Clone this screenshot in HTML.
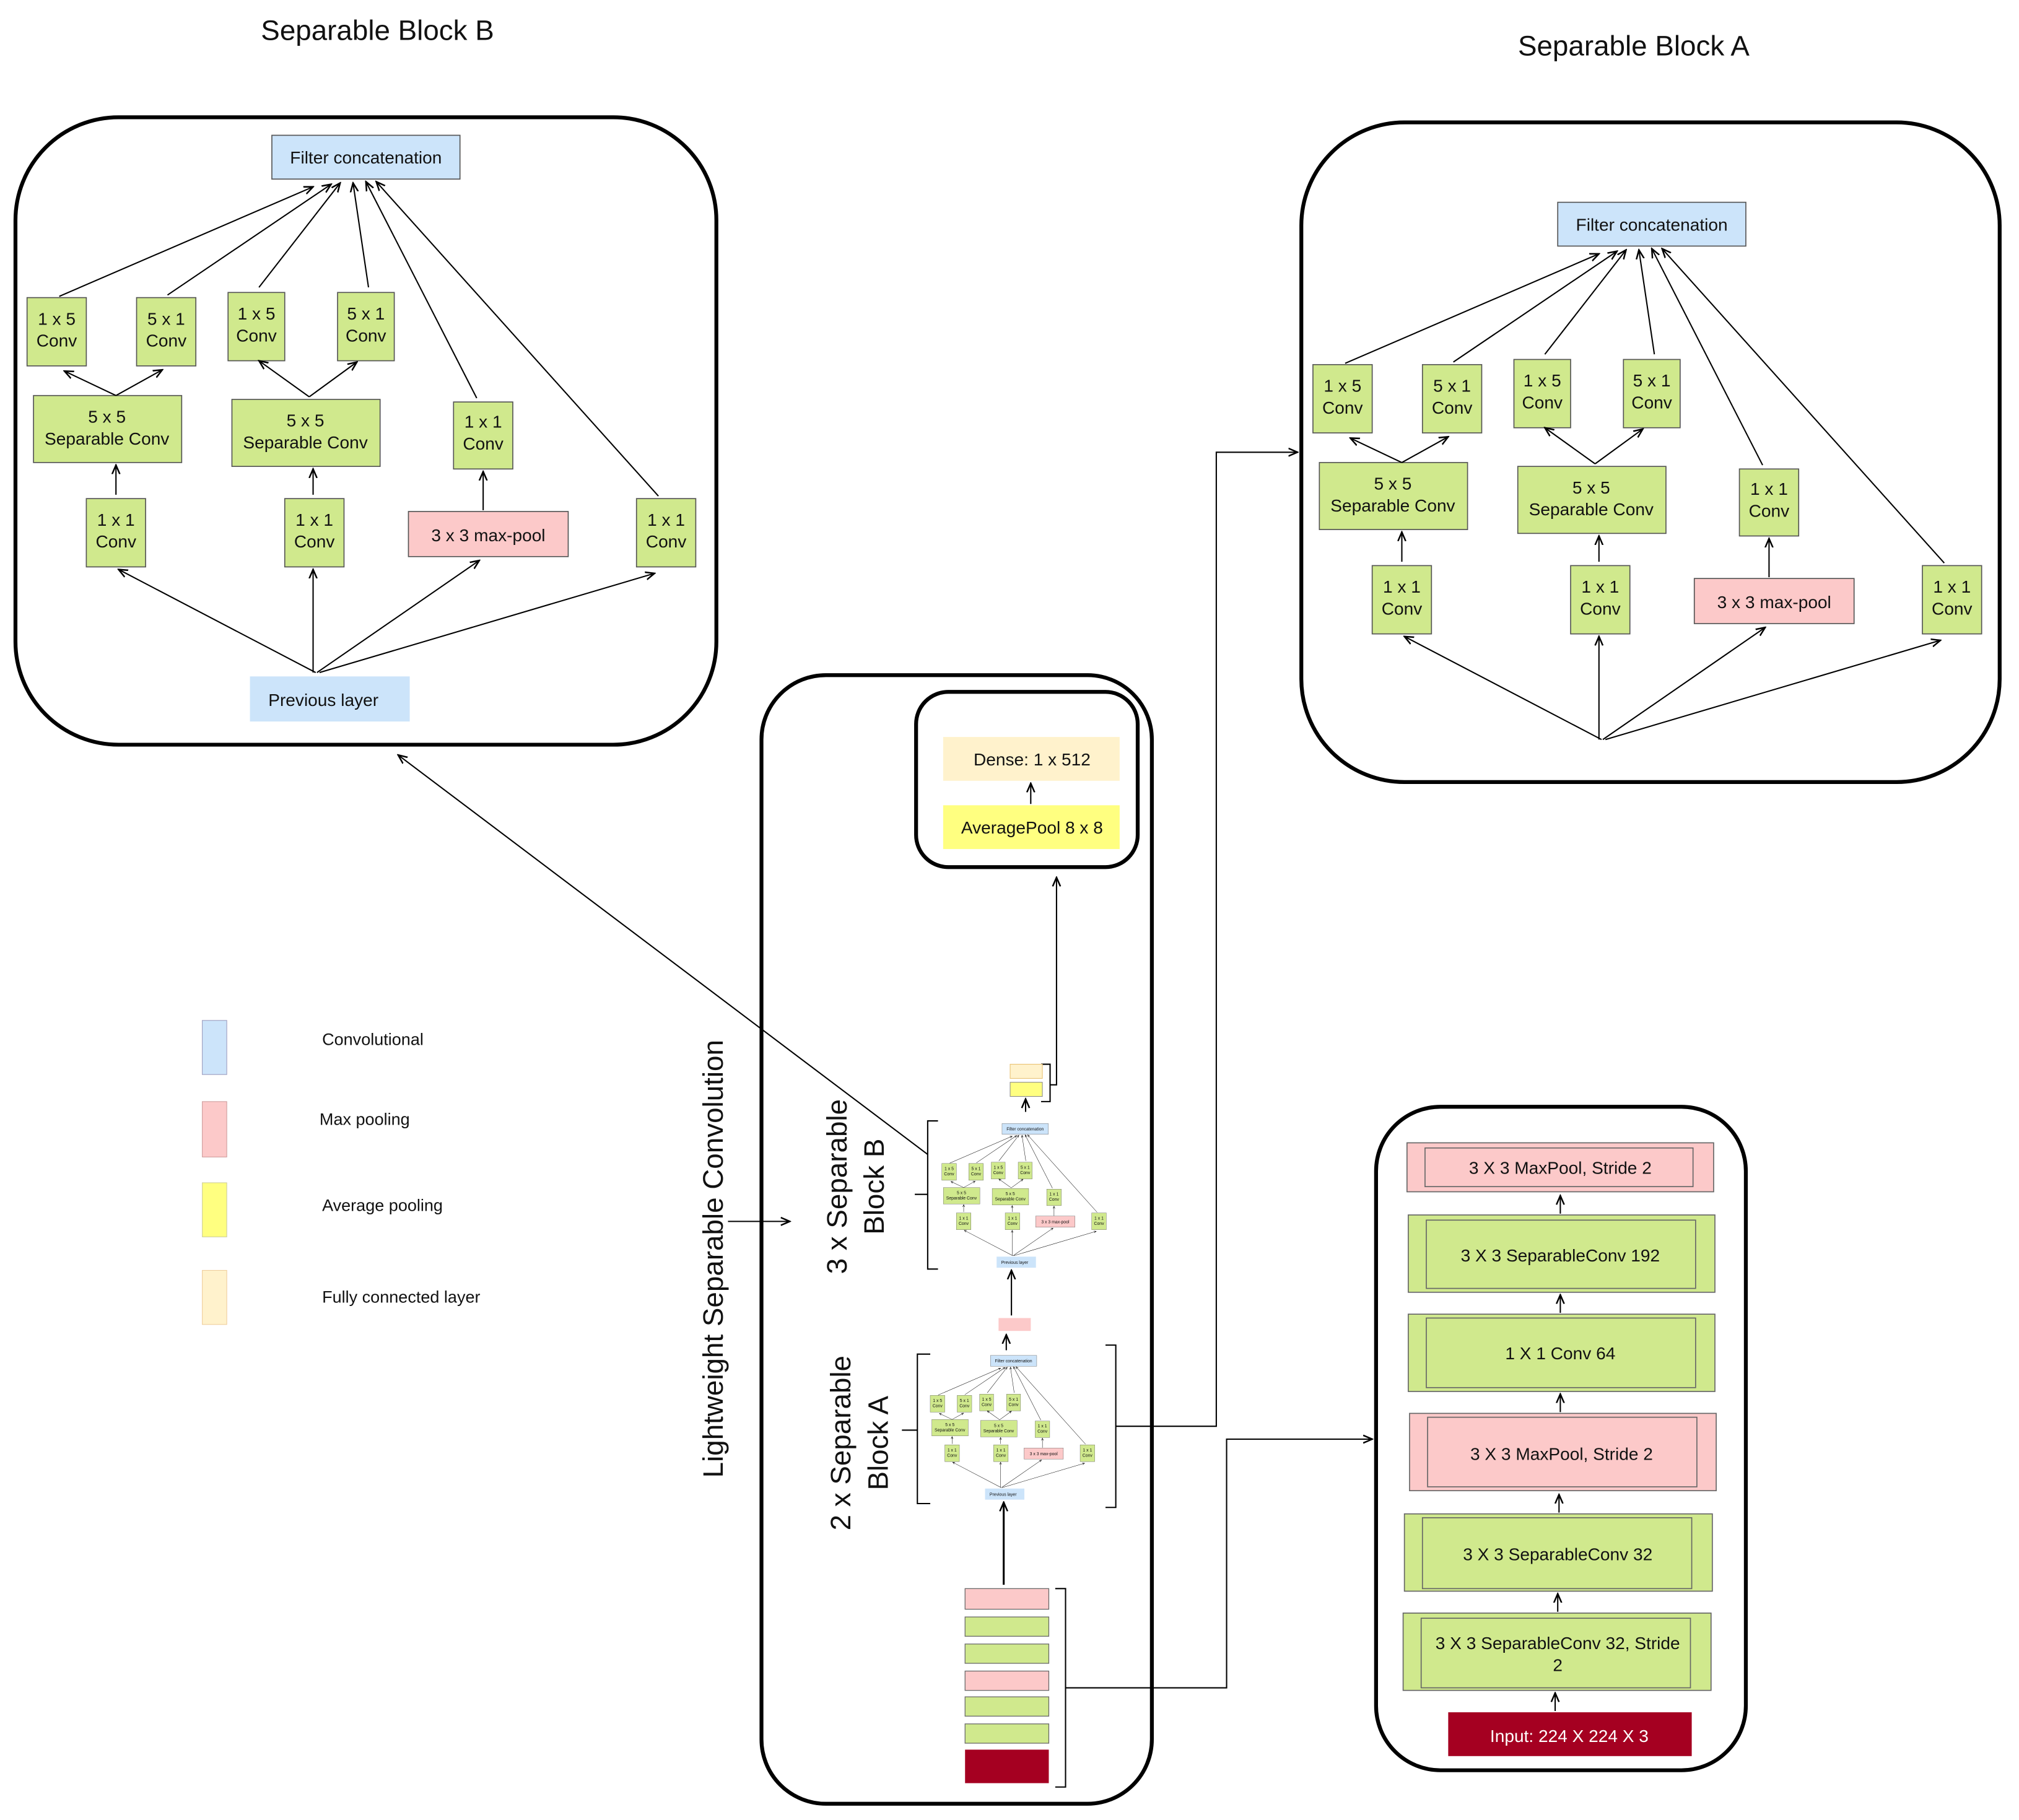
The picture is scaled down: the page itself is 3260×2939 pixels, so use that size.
<!DOCTYPE html>
<html><head><meta charset="utf-8"><style>
html,body{margin:0;padding:0;background:#fff}
svg{display:block}
text{font-family:"Liberation Sans",sans-serif;fill:#111}
</style></head><body>
<svg width="3260" height="2939" viewBox="0 0 1567 1412.6" preserveAspectRatio="none" xmlns="http://www.w3.org/2000/svg">
<defs>
<marker id="ah" markerWidth="8" markerHeight="8" refX="7" refY="4" orient="auto" markerUnits="userSpaceOnUse">
<path d="M0,1 L7,4 L0,7" fill="none" stroke="#000" stroke-width="1.2"/></marker>
<g id="blk">
<g stroke="#555" stroke-width="0.8">
<rect x="211" y="105" width="146" height="34" fill="#cce4fa"/>
<rect x="21" y="231" width="46" height="53" fill="#d0e98d"/>
<rect x="106" y="231" width="46" height="53" fill="#d0e98d"/>
<rect x="177" y="227" width="44" height="53" fill="#d0e98d"/>
<rect x="262" y="227" width="44" height="53" fill="#d0e98d"/>
<rect x="26" y="307" width="115" height="52" fill="#d0e98d"/>
<rect x="180" y="310" width="115" height="52" fill="#d0e98d"/>
<rect x="352" y="312" width="46" height="52" fill="#d0e98d"/>
<rect x="67" y="387" width="46" height="53" fill="#d0e98d"/>
<rect x="221" y="387" width="46" height="53" fill="#d0e98d"/>
<rect x="317" y="397" width="124" height="35" fill="#fcc9c9"/>
<rect x="494" y="387" width="46" height="53" fill="#d0e98d"/>
</g>
<g font-size="13.5" text-anchor="middle">
<text x="284" y="127">Filter concatenation</text>
<text x="44" y="252">1 x 5</text><text x="44" y="269">Conv</text>
<text x="129" y="252">5 x 1</text><text x="129" y="269">Conv</text>
<text x="199" y="248">1 x 5</text><text x="199" y="265">Conv</text>
<text x="284" y="248">5 x 1</text><text x="284" y="265">Conv</text>
<text x="83" y="328">5 x 5</text><text x="83" y="345">Separable Conv</text>
<text x="237" y="331">5 x 5</text><text x="237" y="348">Separable Conv</text>
<text x="375" y="332">1 x 1</text><text x="375" y="349">Conv</text>
<text x="90" y="408">1 x 1</text><text x="90" y="425">Conv</text>
<text x="244" y="408">1 x 1</text><text x="244" y="425">Conv</text>
<text x="379" y="420">3 x 3 max-pool</text>
<text x="517" y="408">1 x 1</text><text x="517" y="425">Conv</text>
</g>
<g stroke="#000" stroke-width="1" fill="none" marker-end="url(#ah)">
<line x1="46" y1="230" x2="243" y2="145"/>
<line x1="130" y1="229" x2="257" y2="143"/>
<line x1="201" y1="223" x2="264" y2="142"/>
<line x1="286" y1="223" x2="274" y2="142"/>
<line x1="370" y1="309" x2="284" y2="141"/>
<line x1="511" y1="385" x2="292" y2="141"/>
<line x1="90" y1="307" x2="50" y2="288"/>
<line x1="90" y1="307" x2="126" y2="287"/>
<line x1="240" y1="308" x2="201" y2="280"/>
<line x1="240" y1="308" x2="277" y2="281"/>
<line x1="90" y1="384" x2="90" y2="361"/>
<line x1="243" y1="384" x2="243" y2="364"/>
<line x1="375" y1="396" x2="375" y2="366"/>
<line x1="245" y1="522" x2="92" y2="442"/>
<line x1="243" y1="522" x2="243" y2="442"/>
<line x1="246" y1="522" x2="372" y2="435"/>
<line x1="248" y1="522" x2="508" y2="445"/>
</g>
</g>
<g id="blkp">
<use href="#blk"/>
<rect x="194" y="525" width="124" height="35" fill="#cce4fa"/>
<text x="251" y="548" font-size="13.5" text-anchor="middle">Previous layer</text>
</g>
</defs>

<!-- Block B -->
<text x="293" y="31" font-size="22" text-anchor="middle">Separable Block B</text>
<rect x="12" y="91" width="544" height="487" rx="80" fill="none" stroke="#000" stroke-width="3"/>
<use href="#blkp"/>

<!-- Block A -->
<text x="1268" y="43" font-size="22" text-anchor="middle">Separable Block A</text>
<rect x="1010" y="95" width="542" height="512" rx="80" fill="none" stroke="#000" stroke-width="3"/>
<use href="#blk" transform="translate(998,52)"/>

<!-- Legend -->
<rect x="157" y="792" width="19" height="42" fill="#cce4fa" stroke="#99b" stroke-width="0.5"/>
<rect x="157" y="855" width="19" height="43" fill="#fcc9c9" stroke="#c99" stroke-width="0.5"/>
<rect x="157" y="918" width="19" height="42" fill="#ffff80" stroke="#cc9" stroke-width="0.5"/>
<rect x="157" y="986" width="19" height="42" fill="#fff2cc" stroke="#ec9" stroke-width="0.5"/>
<g font-size="13">
<text x="250" y="811">Convolutional</text>
<text x="248" y="873">Max pooling</text>
<text x="250" y="940">Average pooling</text>
<text x="250" y="1011">Fully connected layer</text>
</g>

<!-- Middle frame -->
<rect x="591" y="524" width="303" height="876" rx="50" fill="none" stroke="#000" stroke-width="3"/>
<rect x="711" y="537" width="172" height="136" rx="25" fill="none" stroke="#000" stroke-width="3"/>
<rect x="732" y="572" width="137" height="34" fill="#fff2cc"/>
<rect x="732" y="625" width="137" height="34" fill="#ffff80"/>
<text x="801" y="594" font-size="13.5" text-anchor="middle">Dense: 1 x 512</text>
<text x="801" y="647" font-size="13.5" text-anchor="middle">AveragePool 8 x 8</text>
<g stroke="#000" stroke-width="1" fill="none">
<line x1="800" y1="624" x2="800" y2="608" marker-end="url(#ah)"/>
<polyline points="808,826 815,826 815,855 808,855"/>
<polyline points="815,842 820,842 820,681" marker-end="url(#ah)"/>
<line x1="796" y1="863" x2="796" y2="853" marker-end="url(#ah)"/>
<polyline points="728,870 720,870 720,985 728,985"/>
<line x1="710" y1="927" x2="720" y2="927"/>
<line x1="785" y1="1021" x2="785" y2="986" marker-end="url(#ah)"/>
<line x1="781" y1="1048" x2="781" y2="1036" marker-end="url(#ah)"/>
<polyline points="722,1051 712,1051 712,1167 722,1167"/>
<line x1="700" y1="1110" x2="712" y2="1110"/>
<polyline points="858,1044 866,1044 866,1170 858,1170"/>
<polyline points="866,1107 944,1107 944,351 1007,351" marker-end="url(#ah)"/>
<line x1="779" y1="1230" x2="779" y2="1166" marker-end="url(#ah)" stroke-width="1.5"/>
<polyline points="819,1233 827,1233 827,1387 819,1387"/>
<polyline points="827,1310 952,1310 952,1117 1065,1117" marker-end="url(#ah)"/>
<line x1="565" y1="948" x2="613" y2="948" marker-end="url(#ah)"/>
<line x1="720" y1="896" x2="309" y2="586" marker-end="url(#ah)"/>
</g>
<rect x="784" y="826" width="25" height="11" fill="#fff2cc" stroke="#e8c070" stroke-width="0.5"/>
<rect x="784" y="840" width="25" height="11" fill="#ffff80" stroke="#888" stroke-width="0.5"/>
<use href="#blkp" transform="translate(725.8,846.2) scale(0.246)"/>
<rect x="775" y="1023" width="25" height="10" fill="#fcc9c9"/>
<use href="#blkp" transform="translate(716.8,1026.2) scale(0.246)"/>
<g stroke="#666" stroke-width="0.6">
<rect x="749" y="1233" width="65" height="16" fill="#fcc9c9"/>
<rect x="749" y="1255" width="65" height="15" fill="#d0e98d"/>
<rect x="749" y="1276" width="65" height="15" fill="#d0e98d"/>
<rect x="749" y="1297" width="65" height="15" fill="#fcc9c9"/>
<rect x="749" y="1317" width="65" height="15" fill="#d0e98d"/>
<rect x="749" y="1338" width="65" height="15" fill="#d0e98d"/>
<rect x="749" y="1358" width="65" height="26" fill="#a50021" stroke="none"/>
</g>
<text transform="translate(561,977) rotate(-90)" font-size="22" text-anchor="middle">Lightweight Separable Convolution</text>
<text transform="translate(657,921) rotate(-90)" font-size="22" text-anchor="middle">3 x Separable</text>
<text transform="translate(686,921) rotate(-90)" font-size="22" text-anchor="middle">Block B</text>
<text transform="translate(660,1120) rotate(-90)" font-size="22" text-anchor="middle">2 x Separable</text>
<text transform="translate(689,1120) rotate(-90)" font-size="22" text-anchor="middle">Block A</text>

<!-- Right frame -->
<rect x="1068" y="859" width="287" height="515" rx="50" fill="none" stroke="#000" stroke-width="3"/>
<g stroke="#666" stroke-width="0.8">
<rect x="1092" y="887" width="238" height="38" fill="#fcc9c9"/><rect x="1106" y="891" width="208" height="30" fill="none"/>
<rect x="1093" y="943" width="238" height="60" fill="#d0e98d"/><rect x="1107" y="947" width="209" height="53" fill="none"/>
<rect x="1093" y="1020" width="238" height="60" fill="#d0e98d"/><rect x="1107" y="1023" width="209" height="54" fill="none"/>
<rect x="1094" y="1097" width="238" height="60" fill="#fcc9c9"/><rect x="1108" y="1100" width="209" height="54" fill="none"/>
<rect x="1090" y="1175" width="239" height="60" fill="#d0e98d"/><rect x="1104" y="1178" width="209" height="55" fill="none"/>
<rect x="1089" y="1252" width="239" height="60" fill="#d0e98d"/><rect x="1103" y="1256" width="209" height="54" fill="none"/>
</g>
<rect x="1124" y="1329" width="189" height="34" fill="#a50021"/>
<g font-size="13.5" text-anchor="middle">
<text x="1211" y="911">3 X 3 MaxPool, Stride 2</text>
<text x="1211" y="979">3 X 3 SeparableConv 192</text>
<text x="1211" y="1055">1 X 1 Conv 64</text>
<text x="1212" y="1133">3 X 3 MaxPool, Stride 2</text>
<text x="1209" y="1211">3 X 3 SeparableConv 32</text>
<text x="1209" y="1280">3 X 3 SeparableConv 32, Stride</text>
<text x="1209" y="1297">2</text>
<text x="1218" y="1352" style="fill:#fff">Input: 224 X 224 X 3</text>
</g>
<g stroke="#000" stroke-width="1" marker-end="url(#ah)">
<line x1="1211" y1="942" x2="1211" y2="928"/>
<line x1="1211" y1="1019" x2="1211" y2="1005"/>
<line x1="1211" y1="1096" x2="1211" y2="1082"/>
<line x1="1210" y1="1174" x2="1210" y2="1160"/>
<line x1="1209" y1="1251" x2="1209" y2="1237"/>
<line x1="1207" y1="1328" x2="1207" y2="1314"/>
</g>
</svg>
</body></html>
